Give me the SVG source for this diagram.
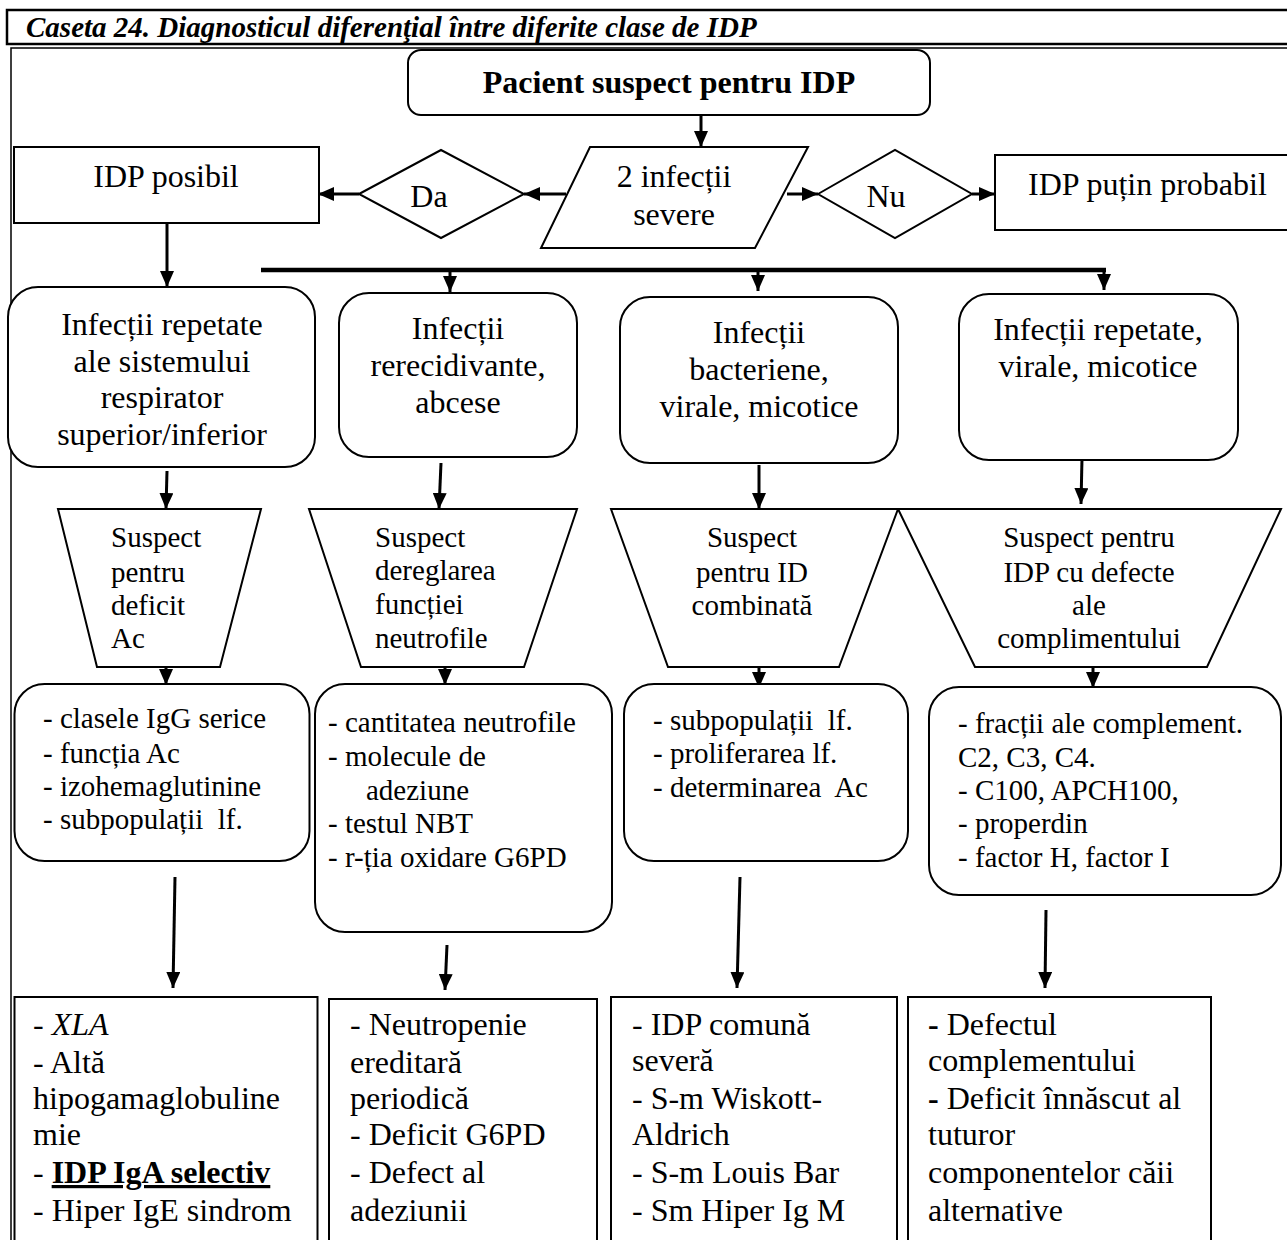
<svg xmlns="http://www.w3.org/2000/svg" width="1287" height="1240" viewBox="0 0 1287 1240">
<style>
.bx{fill:#fff;stroke:#000;stroke-width:2}
.fr{fill:none;stroke:#000}
.t{font-family:"Liberation Serif","Times New Roman",serif;fill:#000}
.L{font-size:32px}
.S{font-size:29px}
.m{text-anchor:middle}
.c{stroke:#000;stroke-width:3;fill:none;marker-end:url(#ah)}
.bus{stroke:#000;stroke-width:4.5;fill:none}
.b{font-weight:bold}
.i{font-style:italic}
</style>
<defs>
<marker id="ah" markerUnits="userSpaceOnUse" markerWidth="16" markerHeight="14" refX="16" refY="7" orient="auto">
<path d="M0,0 L16,7 L0,14 Z" fill="#000"/>
</marker>
</defs>
<rect fill="#fff" width="1287" height="1240"/>
<g id="frame">
<rect class="fr" x="7" y="10" width="1295" height="34" stroke-width="2.5"/>
<rect class="fr" x="11" y="48" width="1290" height="1210" stroke-width="1.5"/>
<text class="t b i" x="26" y="37" font-size="29">Caseta 24. Diagnosticul diferenţial între diferite clase de IDP</text>
</g>
<g id="connectors">
<line class="c" x1="701" y1="115" x2="701" y2="147"/>
<line class="c" x1="566" y1="194" x2="524" y2="194"/>
<line class="c" x1="359" y1="194" x2="318" y2="194"/>
<line class="c" x1="787" y1="194" x2="818" y2="194"/>
<line class="c" x1="972" y1="194" x2="995" y2="194"/>
<line class="c" x1="167" y1="223" x2="167" y2="287"/>
<line class="bus" x1="261" y1="270" x2="1106" y2="270"/>
<line class="c" x1="450" y1="270" x2="450" y2="292"/>
<line class="c" x1="758" y1="270" x2="758" y2="291"/>
<line class="c" x1="1104" y1="268" x2="1104" y2="290"/>
<line class="c" x1="167" y1="471" x2="166" y2="509"/>
<line class="c" x1="441" y1="463" x2="439" y2="509"/>
<line class="c" x1="759" y1="465" x2="759" y2="509"/>
<line class="c" x1="1082" y1="458" x2="1081" y2="504"/>
<line class="c" x1="166" y1="667" x2="166" y2="685"/>
<line class="c" x1="445" y1="667" x2="445" y2="685"/>
<line class="c" x1="759" y1="667" x2="759" y2="688"/>
<line class="c" x1="1093" y1="667" x2="1093" y2="688"/>
<line class="c" x1="175" y1="877" x2="173" y2="988"/>
<line class="c" x1="447" y1="945" x2="445" y2="990"/>
<line class="c" x1="740" y1="877" x2="737" y2="988"/>
<line class="c" x1="1046" y1="910" x2="1045" y2="988"/>
</g>
<g id="start">
<rect class="bx" x="408" y="50" width="522" height="65" rx="13"/>
<text class="t L b m" x="669" y="93">Pacient suspect pentru IDP</text>
</g>
<g id="decision">
<polygon class="bx" points="590,147 808,147 755,248 541,248"/>
<text class="t L m" x="674" y="187">2 infecții</text>
<text class="t L m" x="674" y="225">severe</text>
</g>
<g id="da">
<polygon class="bx" points="359,194 441,150 524,194 441,238"/>
<text class="t L m" x="429" y="207">Da</text>
</g>
<g id="nu">
<polygon class="bx" points="818,194 895,150 972,194 895,238"/>
<text class="t L m" x="886" y="207">Nu</text>
</g>
<g id="idp-posibil">
<rect class="bx" x="14" y="147" width="305" height="76"/>
<text class="t L m" x="166" y="187">IDP posibil</text>
</g>
<g id="idp-putin">
<rect class="bx" x="995" y="155" width="305" height="75"/>
<text class="t L" x="1028" y="195">IDP puțin probabil</text>
</g>
<g id="inf1">
<rect class="bx" x="8" y="287" width="307" height="180" rx="30"/>
<text class="t L m" x="162" y="335">Infecții repetate</text>
<text class="t L m" x="162" y="372">ale sistemului</text>
<text class="t L m" x="162" y="408">respirator</text>
<text class="t L m" x="162" y="445">superior/inferior</text>
</g>
<g id="inf2">
<rect class="bx" x="339" y="293" width="238" height="164" rx="30"/>
<text class="t L m" x="458" y="339">Infecții</text>
<text class="t L m" x="458" y="376">rerecidivante,</text>
<text class="t L m" x="458" y="413">abcese</text>
</g>
<g id="inf3">
<rect class="bx" x="620" y="297" width="278" height="166" rx="30"/>
<text class="t L m" x="759" y="343">Infecții</text>
<text class="t L m" x="759" y="380">bacteriene,</text>
<text class="t L m" x="759" y="417">virale, micotice</text>
</g>
<g id="inf4">
<rect class="bx" x="959" y="294" width="279" height="166" rx="30"/>
<text class="t L m" x="1098" y="340">Infecții repetate,</text>
<text class="t L m" x="1098" y="377">virale, micotice</text>
</g>
<g id="susp1">
<polygon class="bx" points="58,509 261,509 220,667 97,667"/>
<text class="t S" x="111" y="547">Suspect</text>
<text class="t S" x="111" y="582">pentru</text>
<text class="t S" x="111" y="615">deficit</text>
<text class="t S" x="111" y="648">Ac</text>
</g>
<g id="susp2">
<polygon class="bx" points="309,509 577,509 524,667 361,667"/>
<text class="t S" x="375" y="547">Suspect</text>
<text class="t S" x="375" y="580">dereglarea</text>
<text class="t S" x="375" y="614">funcției</text>
<text class="t S" x="375" y="648">neutrofile</text>
</g>
<g id="susp3">
<polygon class="bx" points="611,509 898,509 839,667 668,667"/>
<text class="t S m" x="752" y="547">Suspect</text>
<text class="t S m" x="752" y="582">pentru ID</text>
<text class="t S m" x="752" y="615">combinată</text>
</g>
<g id="susp4">
<polygon class="bx" points="898,509 1281,509 1207,667 975,667"/>
<text class="t S m" x="1089" y="547">Suspect pentru</text>
<text class="t S m" x="1089" y="582">IDP cu defecte</text>
<text class="t S m" x="1089" y="615">ale</text>
<text class="t S m" x="1089" y="648">complimentului</text>
</g>
<g id="test1">
<rect class="bx" x="14.5" y="684" width="295" height="177" rx="30"/>
<text class="t S" x="43" y="728">- clasele IgG serice</text>
<text class="t S" x="43" y="763">- funcția Ac</text>
<text class="t S" x="43" y="796">- izohemaglutinine</text>
<text class="t S" x="43" y="829" xml:space="preserve">- subpopulații  lf.</text>
</g>
<g id="test2">
<rect class="bx" x="315" y="684" width="297" height="248" rx="30"/>
<text class="t S" x="328" y="732">- cantitatea neutrofile</text>
<text class="t S" x="328" y="766">- molecule de</text>
<text class="t S" x="366" y="800">adeziune</text>
<text class="t S" x="328" y="833">- testul NBT</text>
<text class="t S" x="328" y="867">- r-ția oxidare G6PD</text>
</g>
<g id="test3">
<rect class="bx" x="624" y="684" width="284" height="177" rx="30"/>
<text class="t S" x="653" y="730" xml:space="preserve">- subpopulații  lf.</text>
<text class="t S" x="653" y="763">- proliferarea lf.</text>
<text class="t S" x="653" y="797" xml:space="preserve">- determinarea  Ac</text>
</g>
<g id="test4">
<rect class="bx" x="929" y="687" width="352" height="208" rx="30"/>
<text class="t S" x="958" y="733">- fracții ale complement.</text>
<text class="t S" x="958" y="767">C2, C3, C4.</text>
<text class="t S" x="958" y="800">- C100, APCH100,</text>
<text class="t S" x="958" y="833">- properdin</text>
<text class="t S" x="958" y="867">- factor H, factor I</text>
</g>
<g id="dx1">
<rect class="bx" x="14.5" y="997" width="303" height="260"/>
<text class="t L" x="33" y="1035">- <tspan class="i">XLA</tspan></text>
<text class="t L" x="33" y="1073">- Altă</text>
<text class="t L" x="33" y="1109">hipogamaglobuline</text>
<text class="t L" x="33" y="1145">mie</text>
<text class="t L" x="33" y="1183">- <tspan class="b" text-decoration="underline">IDP IgA selectiv</tspan></text>
<text class="t L" x="33" y="1221">- Hiper IgE sindrom</text>
</g>
<g id="dx2">
<rect class="bx" x="329" y="999" width="268" height="260"/>
<text class="t L" x="350" y="1035">- Neutropenie</text>
<text class="t L" x="350" y="1073">ereditară</text>
<text class="t L" x="350" y="1109">periodică</text>
<text class="t L" x="350" y="1145">- Deficit G6PD</text>
<text class="t L" x="350" y="1183">- Defect al</text>
<text class="t L" x="350" y="1221">adeziunii</text>
</g>
<g id="dx3">
<rect class="bx" x="611" y="997" width="286" height="260"/>
<text class="t L" x="632" y="1035">- IDP comună</text>
<text class="t L" x="632" y="1071">severă</text>
<text class="t L" x="632" y="1109">- S-m Wiskott-</text>
<text class="t L" x="632" y="1145">Aldrich</text>
<text class="t L" x="632" y="1183">- S-m Louis Bar</text>
<text class="t L" x="632" y="1221">- Sm Hiper Ig M</text>
</g>
<g id="dx4">
<rect class="bx" x="908" y="997" width="303" height="260"/>
<text class="t L" x="928" y="1035"><tspan class="b">-</tspan> Defectul</text>
<text class="t L" x="928" y="1071">complementului</text>
<text class="t L" x="928" y="1109"><tspan class="b">-</tspan> Deficit înnăscut al</text>
<text class="t L" x="928" y="1145">tuturor</text>
<text class="t L" x="928" y="1183">componentelor căii</text>
<text class="t L" x="928" y="1221">alternative</text>
</g>
</svg>
